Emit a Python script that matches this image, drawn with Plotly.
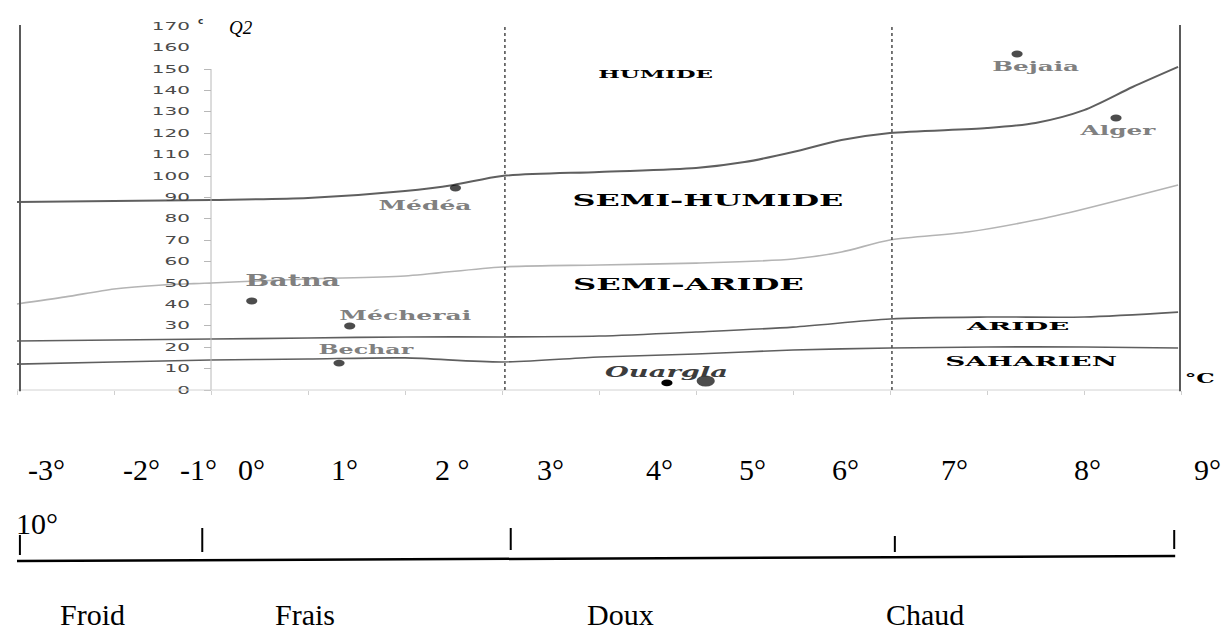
import plotly.graph_objects as go

# ---------------- data ----------------
# Emberger limits: Q2 value of each bioclimatic boundary against m (°C)
humid_m = [-2.0, -1.0, 0.0, 1.0, 2.0, 2.5, 3.0, 4.0, 5.0, 5.5, 6.0, 6.5, 7.0, 8.0, 8.5, 9.0, 9.5, 9.97]
humid_q = [87.9, 88.3, 88.8, 89.7, 93.0, 95.8, 100.0, 101.9, 103.7, 106.5, 111.2, 116.8, 120.1, 122.4, 124.8, 130.8, 141.6, 151.0]

subhumid_m = [-2.0, -1.5, -1.0, -0.5, 0.0, 1.0, 2.0, 3.0, 4.0, 5.0, 6.0, 6.5, 7.0, 7.8, 8.5, 9.0, 9.97]
subhumid_q = [40.2, 43.5, 47.2, 49.1, 50.0, 51.9, 53.3, 57.5, 58.4, 59.3, 61.2, 64.5, 70.1, 73.8, 79.4, 84.6, 95.8]

semiarid_m = [-2.0, 0.0, 1.0, 2.0, 3.0, 4.0, 5.0, 6.0, 7.0, 8.0, 9.0, 9.97]
semiarid_q = [22.9, 23.8, 24.3, 24.8, 24.8, 25.2, 27.1, 29.4, 33.2, 34.1, 34.1, 36.4]

arid_m = [-2.0, -1.0, 0.0, 1.0, 2.0, 3.0, 4.0, 5.0, 6.0, 7.0, 8.0, 9.0, 9.97]
arid_q = [12.1, 13.1, 14.0, 14.5, 15.0, 13.1, 15.4, 16.8, 18.7, 19.6, 20.1, 20.1, 19.6]

# stations
station_names = ["Bejaia", "Alger", "Médéa", "Batna", "Mécherai", "Bechar", "Ouargla"]
station_m = [8.31, 9.33, 2.52, 0.42, 1.43, 1.32, 5.10]
station_q = [157.0, 127.1, 94.4, 41.6, 29.9, 12.6, 4.2]
extra_m = [4.70]          # second Ouargla dot
extra_q = [3.3]

# thermal winter limits (dotted) and class bounds of the lower scale
zone_m = [3.03, 7.02]
class_bounds = [-1.97, -0.09, 3.09, 7.05, 9.93]
class_names = ["Froid", "Frais", "Doux", "Chaud"]

# axis ticks / labels
q_ticks = list(range(0, 151, 10))
q_ticks_top = [160, 170]
m_ticks = list(range(-2, 11))
temp_labels = ["-3°", "-2°", "-1°", "0°", "1°", "2 °", "3°", "4°", "5°", "6°", "7°", "8°", "9°"]
region_names = ["HUMIDE", "SEMI-HUMIDE", "SEMI-ARIDE", "ARIDE", "SAHARIEN"]

# ---------------- layout helpers ----------------
W, H = 1223, 630
X0, X1 = (0 - 211) / 97, (W - 211) / 97
Y0, Y1 = (390 - H) / 2.14, 390 / 2.14


def ux(px):
    return (px - 211) / 97


def uq(py):
    return (390 - py) / 2.14


def py2paper(py):
    return 1 - py / H


fig = go.Figure()

curve_style = [
    (humid_m, humid_q, "#5f5f5f", 2.0),
    (subhumid_m, subhumid_q, "#b4b4b4", 1.6),
    (semiarid_m, semiarid_q, "#5f5f5f", 1.6),
    (arid_m, arid_q, "#5f5f5f", 1.6),
]
for mm, qq, col, w in curve_style:
    fig.add_trace(go.Scatter(x=mm, y=qq, mode="lines",
                             line=dict(color=col, width=w, shape="spline", smoothing=0.8),
                             showlegend=False, hoverinfo="skip"))

sizes = [8, 8, 8, 8, 8, 8, 13]
fig.add_trace(go.Scatter(x=station_m, y=station_q, mode="markers",
                         marker=dict(color="black", size=sizes, line=dict(width=0)),
                         showlegend=False, hoverinfo="skip"))
fig.add_trace(go.Scatter(x=extra_m, y=extra_q, mode="markers",
                         marker=dict(color="black", size=8, line=dict(width=0)),
                         showlegend=False, hoverinfo="skip"))
# dummy trace for the upper label axis
fig.add_trace(go.Scatter(x=[0], y=[170], mode="markers", yaxis="y2",
                         marker=dict(opacity=0), showlegend=False, hoverinfo="skip"))

top_q = uq(25)
shapes = []
# inner Q2 axis line
shapes.append(dict(type="line", xref="x", yref="y", x0=0, x1=0, y0=0, y1=150,
                   line=dict(color="#b8b8b8", width=1)))
# baseline
shapes.append(dict(type="line", xref="x", yref="y", x0=-2.0, x1=9.99, y0=0, y1=0,
                   line=dict(color="#d2d2d2", width=1)))
# frame
for xv in [ux(20), ux(1180)]:
    shapes.append(dict(type="line", xref="x", yref="y", x0=xv, x1=xv, y0=-0.6, y1=top_q,
                       line=dict(color="#5a5a5a", width=2)))
# dotted zone limits
for zm in zone_m:
    shapes.append(dict(type="line", xref="x", yref="y", x0=zm, x1=zm, y0=0, y1=top_q,
                       line=dict(color="#4a4a4a", width=1.5, dash="dot")))
# lower thermal scale
shapes.append(dict(type="line", xref="x", yref="paper", x0=class_bounds[0] - 0.03, x1=class_bounds[-1] + 0.01,
                   y0=py2paper(561), y1=py2paper(556), line=dict(color="black", width=2.5)))
tick_spans = [(535, 555), (528, 552), (528, 550), (536, 552), (530, 549)]
for cb, (a, b) in zip(class_bounds, tick_spans):
    shapes.append(dict(type="line", xref="x", yref="paper", x0=cb, x1=cb,
                       y0=py2paper(a), y1=py2paper(b), line=dict(color="black", width=2)))

C = dict(xanchor="center", yanchor="middle", showarrow=False)
ann = []
# region names
region_pos = [(655, 74, 11), (708, 200, 16), (688, 284, 16), (1017, 326, 11), (1031, 362, 12)]
for name, (px, py, fs) in zip(region_names, region_pos):
    ann.append(dict(x=ux(px), y=uq(py), xref="x", yref="y", text=name, **C,
                    font=dict(family="DejaVu Serif", size=fs, color="black", weight="bold")))
ann.append(dict(x=ux(1200), y=uq(379), xref="x", yref="y", text="°C", **C,
                font=dict(family="DejaVu Serif", size=12, color="black", weight="bold")))
# station names
label_shift = [(19, -12), (1, -12), (-30, -18), (41, 20), (56, 11), (27, 14), (-39, 9)]
label_size = [13, 13, 13, 16, 13, 13, 14]
for i, name in enumerate(station_names):
    is_oua = name == "Ouargla"
    ann.append(dict(x=station_m[i], y=station_q[i], xref="x", yref="y", text=name, **C,
                    xshift=label_shift[i][0], yshift=label_shift[i][1],
                    font=dict(family="DejaVu Serif", size=label_size[i],
                              color="#3c3c3c" if is_oua else "#808080", weight="bold",
                              style="italic" if is_oua else "normal")))
# Q2 title and unit
ann.append(dict(x=ux(241), y=uq(27), xref="x", yref="y", text="Q2", **C,
                font=dict(family="Liberation Serif", size=19, color="black", style="italic")))
ann.append(dict(x=ux(200), y=uq(21), xref="x", yref="y", text="c", **C,
                font=dict(family="DejaVu Sans", size=9, color="#333333", weight="bold")))
# lower temperature labels
temp_px = [46, 141, 198, 251, 345, 452, 550, 659, 752, 845, 954, 1087, 1207]
for t, px in zip(temp_labels, temp_px):
    ann.append(dict(x=px / W, y=py2paper(469), xref="paper", yref="paper", text=t, **C,
                    font=dict(family="Liberation Serif", size=30, color="black")))
ann.append(dict(x=37 / W, y=py2paper(523), xref="paper", yref="paper", text="10°", **C,
                font=dict(family="Liberation Serif", size=30, color="black")))
class_px = [93, 305, 620, 925]
for c, px in zip(class_names, class_px):
    ann.append(dict(x=px / W, y=py2paper(614), xref="paper", yref="paper", text=c, **C,
                    font=dict(family="Liberation Serif", size=30, color="black")))

tickfont = dict(family="DejaVu Sans", size=10, color="#4a4a4a")
fig.update_layout(
    width=W, height=H, autosize=False,
    margin=dict(l=0, r=0, t=0, b=0),
    paper_bgcolor="white", plot_bgcolor="white",
    showlegend=False,
    xaxis=dict(range=[X0, X1], domain=[0, 1], anchor="free", position=py2paper(390),
               showgrid=False, zeroline=False, showline=False,
               tickmode="array", tickvals=m_ticks, ticks="outside", ticklen=4,
               tickcolor="#cfcfcf", showticklabels=False, fixedrange=True),
    yaxis=dict(range=[Y0, Y1], domain=[0, 1], anchor="free", position=211 / W,
               showgrid=False, zeroline=False, showline=False,
               tickmode="array", tickvals=q_ticks, ticks="outside", ticklen=7,
               tickcolor="#b8b8b8", tickfont=tickfont, ticklabelstandoff=12, fixedrange=True),
    yaxis2=dict(range=[Y0, Y1], overlaying="y", anchor="free", position=211 / W, side="left",
                showgrid=False, zeroline=False, showline=False,
                tickmode="array", tickvals=q_ticks_top, ticks="outside", ticklen=7,
                tickcolor="rgba(0,0,0,0)", tickfont=tickfont, ticklabelstandoff=12, fixedrange=True),
    shapes=shapes,
    annotations=ann,
)

post = """
document.body.style.margin = '0';
document.body.style.overflow = 'hidden';
var gd = document.getElementById('{plot_id}');
function stretch(el, s, anchor) {
  var bb = el.getBBox();
  if (!bb.width) return;
  var ax = anchor === 'end' ? bb.x + bb.width : bb.x + bb.width / 2;
  var t = el.getAttribute('transform') || '';
  el.setAttribute('transform', t + ' translate(' + ax + ',0) scale(' + s + ',1) translate(' + (-ax) + ',0)');
}
var targets = {'HUMIDE':115,'SEMI-HUMIDE':271,'SEMI-ARIDE':231,'ARIDE':105,'SAHARIEN':172,'°C':30,
  'Bejaia':88,'Alger':77,'Médéa':94,'Batna':95,'Mécherai':132,'Bechar':95,'Ouargla':123};
gd.querySelectorAll('text.annotation-text').forEach(function(el){
  var k = el.textContent;
  if (targets.hasOwnProperty(k)) {
    var bb = el.getBBox();
    if (bb.width) stretch(el, targets[k] / bb.width, 'middle');
  }
});
gd.querySelectorAll('.ytick text, .y2tick text').forEach(function(el){ stretch(el, 2.0, 'end'); });
gd.querySelectorAll('.scatterlayer path.point').forEach(function(el){
  var t = el.getAttribute('transform') || '';
  el.setAttribute('transform', t + ' scale(1.4,0.85)');
});
"""

fig.write_html("out.html", post_script=post, config={"displayModeBar": False})
